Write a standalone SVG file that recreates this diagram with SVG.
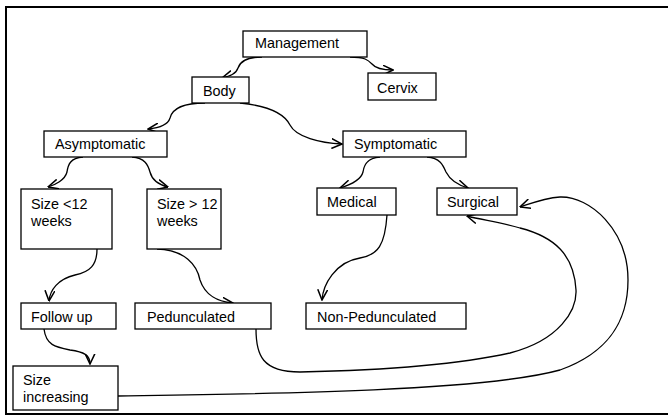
<svg xmlns="http://www.w3.org/2000/svg" width="668" height="416" viewBox="0 0 668 416">
<style>
.box{fill:#fff;stroke:#000;stroke-width:1.3}
.t{font-family:"Liberation Sans",Arial,sans-serif;font-size:14.4px;fill:#000}
.c{fill:none;stroke:#000;stroke-width:1.3;marker-end:url(#ah)}
</style>
<defs>
<marker id="ah" viewBox="0 0 10 10" refX="9.5" refY="5" markerWidth="11" markerHeight="11" markerUnits="userSpaceOnUse" orient="auto">
<path d="M0,0.5 L9.5,5 L0,9.5" fill="none" stroke="#000" stroke-width="1.4"/>
</marker>
</defs>
<rect x="0" y="0" width="668" height="416" fill="#fff"/>
<path d="M668,7 L6,7 L6,414 L668,414" fill="none" stroke="#000" stroke-width="2"/>

<g id="connectors">
<path class="c" d="M262,57 C245,57 240,62 238,68 C236,74 230,76 222,78"/>
<path class="c" d="M350,57 C365,57 368,60 372,64 C376,69 385,70 393,70"/>
<path class="c" d="M205,103 C180,103 172,110 170,118 C168,125 158,128 148,129"/>
<path class="c" d="M240,103 C270,106 285,115 290,125 C296,137 320,143 342,144"/>
<path class="c" d="M83,157 C70,158 68,165 67,172 C65,180 55,185 48,187"/>
<path class="c" d="M132,157 C145,158 148,165 150,172 C152,180 160,185 168,187"/>
<path class="c" d="M380,157 C367,158 364,165 363,172 C361,180 350,185 340,188"/>
<path class="c" d="M427,157 C440,158 443,165 446,172 C450,180 458,185 468,188"/>
<path class="c" d="M97,249 C97,265 90,272 75,275 C58,279 50,290 49,301"/>
<path class="c" d="M157,249 C185,250 197,265 200,280 C205,295 218,302 233,303"/>
<path class="c" d="M387,215 C385,245 378,255 360,258 C335,262 323,285 322,300"/>
<path class="c" d="M44,329 C46,345 55,347 70,350 C84,352 90,355 90,364"/>
<path class="c" d="M256,329 C256,355 262,372 300,372 C400,370 470,362 510,353 C560,340 577,310 576,290 C574,255 555,237 520,228 C500,222 482,220 467,216"/>
<path class="c" d="M118,396 C250,394 480,392 560,370 C610,352 628,320 628,280 C628,230 590,196 560,197 C545,198 532,203 520,207"/>
</g>

<g id="management"><rect class="box" x="243" y="31" width="124" height="26"/><text class="t" x="255" y="48">Management</text></g>
<g id="cervix"><rect class="box" x="368" y="73" width="68" height="27"/><text class="t" x="377" y="93">Cervix</text></g>
<g id="body"><rect class="box" x="192" y="77" width="57" height="26"/><text class="t" x="203" y="96">Body</text></g>
<g id="asymptomatic"><rect class="box" x="44" y="131" width="123" height="26"/><text class="t" x="55" y="149">Asymptomatic</text></g>
<g id="symptomatic"><rect class="box" x="343" y="131" width="123" height="26"/><text class="t" x="354" y="149">Symptomatic</text></g>
<g id="size-lt-12"><rect class="box" x="21" y="189" width="91" height="60"/><text class="t" x="31" y="209">Size &lt;12</text><text class="t" x="31" y="226">weeks</text></g>
<g id="size-gt-12"><rect class="box" x="147" y="189" width="74" height="60"/><text class="t" x="157" y="209">Size &gt; 12</text><text class="t" x="157" y="226">weeks</text></g>
<g id="medical"><rect class="box" x="317" y="188" width="79" height="27"/><text class="t" x="327" y="207">Medical</text></g>
<g id="surgical"><rect class="box" x="437" y="188" width="80" height="27"/><text class="t" x="447" y="207">Surgical</text></g>
<g id="follow-up"><rect class="box" x="21" y="303" width="95" height="26"/><text class="t" x="31" y="322">Follow up</text></g>
<g id="pedunculated"><rect class="box" x="135" y="303" width="136" height="26"/><text class="t" x="147" y="322">Pedunculated</text></g>
<g id="non-pedunculated"><rect class="box" x="306" y="303" width="160" height="26"/><text class="t" x="317" y="322">Non-Pedunculated</text></g>
<g id="size-increasing"><rect class="box" x="13" y="366" width="105" height="44"/><text class="t" x="23" y="385">Size</text><text class="t" x="23" y="402">increasing</text></g>
</svg>
